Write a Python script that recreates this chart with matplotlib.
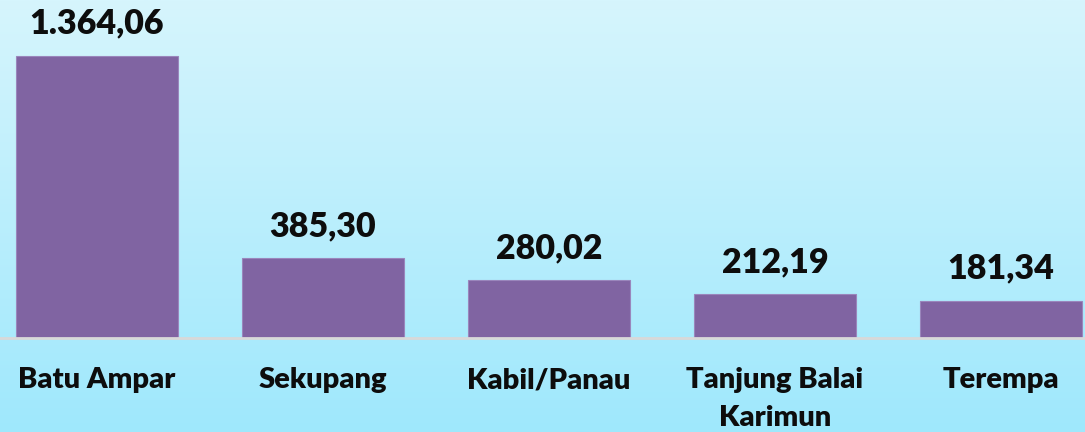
import matplotlib
matplotlib.use("Agg")
import matplotlib.pyplot as plt
import numpy as np
from matplotlib.colors import LinearSegmentedColormap

categories = ["Batu Ampar", "Sekupang", "Kabil/Panau", "Tanjung Balai\nKarimun", "Terempa"]
values = [1364.06, 385.30, 280.02, 212.19, 181.34]
value_labels = ["1.364,06", "385,30", "280,02", "212,19", "181,34"]

plt.rcParams['font.family'] = ['Lato', 'DejaVu Sans']

W, H = 1085, 432
fig = plt.figure(figsize=(W / 100, H / 100), dpi=100)

# gradient background
bg = fig.add_axes([0, 0, 1, 1], zorder=0)
cmap = LinearSegmentedColormap.from_list("bg", ["#d6f5fd", "#9fe8fc"])
grad = np.linspace(0, 1, 256).reshape(-1, 1)
bg.imshow(grad, aspect='auto', cmap=cmap, extent=[0, 1, 0, 1], origin='upper')
bg.axis('off')

# axes: category spacing 226 px, first center at x=97
left_px = 97 - 113
width_px = 226 * 5
bottom_px = H - 338
ax = fig.add_axes([left_px / W, bottom_px / H, width_px / W, (H - bottom_px) / H], zorder=1)
ax.patch.set_alpha(0)

x = np.arange(len(categories))
ax.bar(x, values, width=0.717, color="#8064a2", edgecolor="#9a86bc", linewidth=0.8, zorder=2)
ax.set_xlim(-0.5, 4.5)
ax.set_ylim(0, 338 / (282 / 1364.06))

for xi, v, lab in zip(x, values, value_labels):
    ax.annotate(lab, (xi, v), xytext=(0, 16), textcoords='offset points',
                ha='center', va='baseline', fontsize=24.5, fontweight='heavy', color='#0d0d0d')

ax.set_xticks(x)
ax.set_xticklabels(categories, fontsize=21, fontweight='heavy', color='#0d0d0d', linespacing=1.58)
ax.tick_params(axis='x', length=0, pad=21)
ax.set_yticks([])
for s in ['top', 'right', 'left']:
    ax.spines[s].set_visible(False)
ax.spines['bottom'].set_color('#d9d9d9')
ax.spines['bottom'].set_linewidth(2)
ax.spines['bottom'].set_zorder(3)

fig.savefig("out.png", dpi=100)
